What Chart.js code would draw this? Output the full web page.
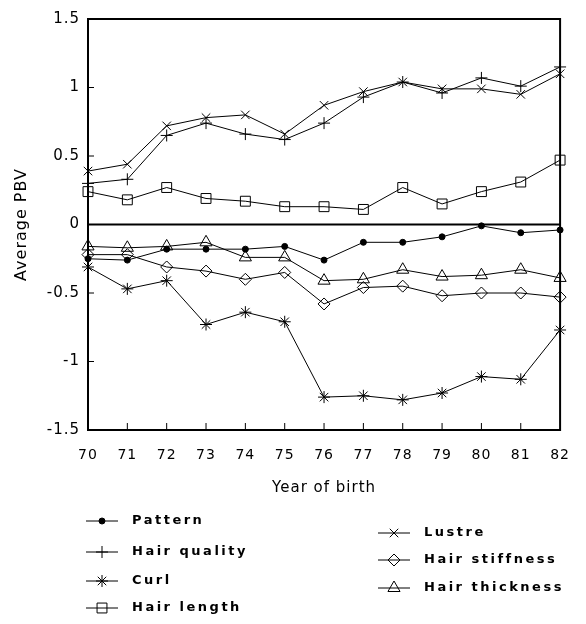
<!DOCTYPE html>
<html>
<head>
<meta charset="utf-8">
<script src="https://cdn.jsdelivr.net/npm/chart.js@4.4.0/dist/chart.umd.min.js"></script>
<style>
  html, body { margin: 0; padding: 0; background: #fff; }
  #contenedor { width: 586px; height: 624px; }
</style>
</head>
<body>
<div id="contenedor"><canvas id="grafica"></canvas></div>
<script>
// Datos
const years = ['70', '71', '72', '73', '74', '75', '76', '77', '78', '79', '80', '81', '82'];
const pattern = [-0.25, -0.26, -0.18, -0.18, -0.18, -0.16, -0.26, -0.13, -0.13, -0.09, -0.01, -0.06, -0.04];
const hairQuality = [0.30, 0.33, 0.65, 0.74, 0.66, 0.62, 0.74, 0.93, 1.04, 0.96, 1.07, 1.01, 1.15];
const curl = [-0.31, -0.47, -0.41, -0.73, -0.64, -0.71, -1.26, -1.25, -1.28, -1.23, -1.11, -1.13, -0.77];
const hairLength = [0.24, 0.18, 0.27, 0.19, 0.17, 0.13, 0.13, 0.11, 0.27, 0.15, 0.24, 0.31, 0.47];
const lustre = [0.39, 0.44, 0.72, 0.78, 0.80, 0.66, 0.87, 0.97, 1.04, 0.99, 0.99, 0.95, 1.10];
const hairStiffness = [-0.22, -0.22, -0.31, -0.34, -0.40, -0.35, -0.58, -0.46, -0.45, -0.52, -0.50, -0.50, -0.53];
const hairThickness = [-0.16, -0.17, -0.16, -0.13, -0.24, -0.24, -0.41, -0.40, -0.33, -0.38, -0.37, -0.33, -0.39];
const yTicks = [-1.5, -1, -0.5, 0, 0.5, 1, 1.5];

const FONT = '"DejaVu Sans", sans-serif';
const HUECO = 'rgba(0,0,0,0)';

function serie(label, data, style, radius, filled) {
    return {
        label: label,
        data: data,
        borderColor: '#000',
        borderWidth: 1,
        backgroundColor: filled ? '#000' : HUECO,
        pointStyle: style,
        pointRadius: radius,
        pointBorderWidth: 1,
        pointBorderColor: '#000',
        pointBackgroundColor: filled ? '#000' : HUECO,
        tension: 0,
        fill: false
    };
}

// Marco, linea del cero, marcas hacia dentro y leyenda en dos columnas
const marco = {
    id: 'marco',
    beforeDraw(chart) {
        chart.ctx.letterSpacing = '1px';
    },
    beforeDatasetsDraw(chart) {
        const { ctx, chartArea: a, scales: { x, y } } = chart;
        ctx.save();
        ctx.strokeStyle = '#000';
        ctx.lineWidth = 2;
        ctx.strokeRect(a.left, a.top, a.right - a.left, a.bottom - a.top);
        const y0 = y.getPixelForValue(0);
        ctx.beginPath();
        ctx.moveTo(a.left, y0);
        ctx.lineTo(a.right, y0);
        ctx.stroke();
        ctx.lineWidth = 1;
        ctx.beginPath();
        yTicks.forEach(v => {
            const py = y.getPixelForValue(v);
            ctx.moveTo(a.left, py);
            ctx.lineTo(a.left + 6, py);
        });
        for (let i = 1; i < years.length - 1; i++) {
            const px = x.getPixelForValue(i);
            ctx.moveTo(px, a.bottom);
            ctx.lineTo(px, a.bottom - 7);
        }
        ctx.stroke();
        ctx.restore();
    },
    afterDraw(chart) {
        const ctx = chart.ctx;
        const filas = [
            [0, 86, 521], [1, 86, 552], [2, 86, 581], [3, 86, 608],
            [4, 378, 533], [5, 378, 560], [6, 378, 588]
        ];
        ctx.save();
        ctx.font = 'bold 13px ' + FONT;
        ctx.textBaseline = 'middle';
        filas.forEach(([i, x0, yy]) => {
            const ds = chart.data.datasets[i];
            ctx.letterSpacing = '0px';
            ctx.strokeStyle = '#000';
            ctx.lineWidth = 1;
            ctx.beginPath();
            ctx.moveTo(x0, yy);
            ctx.lineTo(x0 + 32, yy);
            ctx.stroke();
            ctx.fillStyle = ds.pointBackgroundColor;
            Chart.helpers.drawPoint(ctx, {
                pointStyle: ds.pointStyle,
                radius: ds.pointRadius,
                rotation: 0,
                borderWidth: 1
            }, x0 + 16, yy);
            ctx.fillStyle = '#000';
            ctx.letterSpacing = '2.5px';
            ctx.fillText(ds.label, x0 + 46, yy);
        });
        ctx.restore();
    }
};

const chart = new Chart(document.getElementById('grafica').getContext('2d'), {
    type: 'line',
    data: {
        labels: years,
        datasets: [
            serie('Pattern', pattern, 'circle', 3, true),
            serie('Hair quality', hairQuality, 'cross', 6, false),
            serie('Curl', curl, 'star', 6, false),
            serie('Hair length', hairLength, 'rect', 7, false),
            serie('Lustre', lustre, 'crossRot', 6, false),
            serie('Hair stiffness', hairStiffness, 'rectRot', 6, false),
            serie('Hair thickness', hairThickness, 'triangle', 7, false)
        ]
    },
    options: {
        responsive: true,
        maintainAspectRatio: false,
        animation: false,
        layout: { padding: { left: 0, right: 12, top: 19, bottom: 126 } },
        plugins: {
            legend: { display: false },
            tooltip: { enabled: false }
        },
        scales: {
            x: {
                offset: false,
                grid: { display: false, drawTicks: false },
                border: { display: false },
                ticks: {
                    color: '#000',
                    padding: 17,
                    maxRotation: 0,
                    autoSkip: false,
                    font: { family: FONT, size: 14 }
                },
                title: {
                    display: true,
                    text: 'Year of birth',
                    color: '#000',
                    padding: { top: 0, bottom: 1 },
                    font: { family: FONT, size: 15 }
                },
                afterFit(scale) { scale.height = 68; }
            },
            y: {
                min: -1.5,
                max: 1.5,
                grid: { display: false, drawTicks: false },
                border: { display: false },
                afterBuildTicks(scale) {
                    scale.ticks = yTicks.map(v => ({ value: v }));
                },
                ticks: {
                    color: '#000',
                    padding: 8,
                    font: { family: FONT, size: 15 },
                    callback: v => String(v)
                },
                title: {
                    display: true,
                    text: 'Average PBV',
                    color: '#000',
                    padding: { top: 12, bottom: 0 },
                    font: { family: FONT, size: 16 }
                },
                afterFit(scale) { scale.width = 88; }
            }
        }
    },
    plugins: [marco]
});
</script>
</body>
</html>
